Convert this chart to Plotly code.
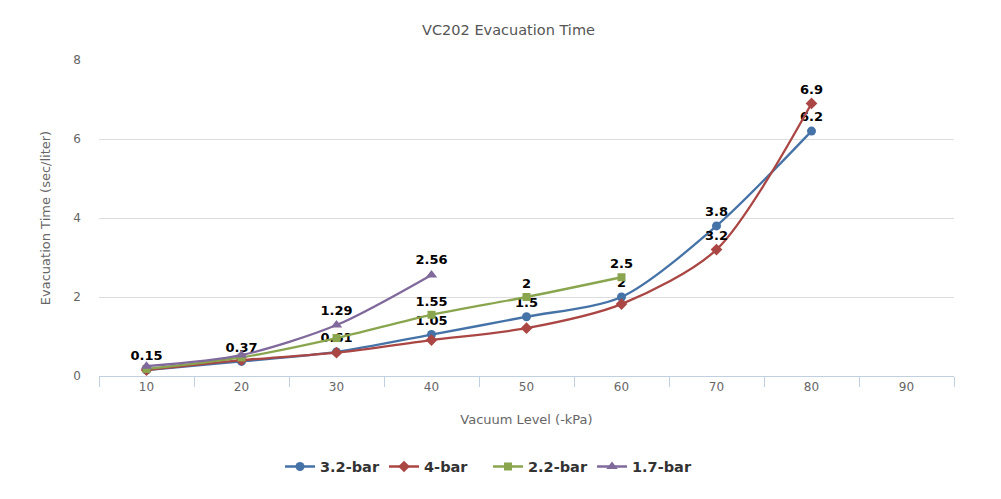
import plotly.graph_objects as go

categories = ["10", "20", "30", "40", "50", "60", "70", "80", "90"]
s32 = [0.15, 0.37, 0.61, 1.05, 1.5, 2.0, 3.8, 6.2]
s4 = [0.15, 0.40, 0.59, 0.91, 1.21, 1.82, 3.2, 6.9]
s22 = [0.18, 0.47, 0.96, 1.55, 2.0, 2.5]
s17 = [0.25, 0.53, 1.29, 2.56]

lab32 = ["0.15", "0.37", "0.61", "1.05", "1.5", "2", "3.8", "6.2"]
lab4 = ["", "", "", "", "", "", "3.2", "6.9"]
lab22 = ["", "", "", "1.55", "2", "2.5"]
lab17 = ["", "", "1.29", "2.56"]

series = [
    ("3.2-bar", s32, lab32, "#4572A7", "circle", 9),
    ("4-bar", s4, lab4, "#AA4643", "diamond", 9),
    ("2.2-bar", s22, lab22, "#89A54E", "square", 8),
    ("1.7-bar", s17, lab17, "#80699B", "triangle-up", 10),
]

fig = go.Figure()
for name, vals, labs, color, sym, sz in series:
    fig.add_trace(go.Scatter(
        x=categories[:len(vals)], y=vals, name=name,
        mode="lines+markers+text",
        text=labs, textposition="top center",
        textfont=dict(family="DejaVu Sans", size=13, color="#000000", weight="bold"),
        line=dict(color=color, width=2.3, shape="spline", smoothing=0.8),
        marker=dict(color=color, symbol=sym, size=sz),
        cliponaxis=False,
    ))

fig.update_layout(
    width=1001, height=499,
    paper_bgcolor="white", plot_bgcolor="white",
    margin=dict(l=91, r=55, t=52, b=131, autoexpand=False),
    font=dict(family="DejaVu Sans", color="#666666", size=12),
    title=dict(text="VC202 Evacuation Time", x=0.5, xanchor="center", y=0.956, yanchor="middle",
               font=dict(size=14.5, color="#555555")),
    showlegend=True,
    legend=dict(orientation="h", x=0.455, xanchor="center", y=-0.236, yanchor="top",
                font=dict(size=14.5, color="#333333", weight="bold"),
                entrywidth=59, entrywidthmode="pixels",
                traceorder="normal"),
)
fig.update_xaxes(
    type="category", categoryorder="array", categoryarray=categories, automargin=False,
    range=[-0.5, 8.5], showgrid=False, showline=True, linecolor="#C0D0E0", linewidth=1,
    ticks="outside", tickson="boundaries", ticklen=10, tickcolor="#C0D0E0",
    tickfont=dict(size=12, color="#666666"),
    title=dict(text="Vacuum Level (-kPa)", font=dict(size=13, color="#666666"), standoff=21),
)
fig.update_yaxes(
    range=[0, 8], dtick=2, showgrid=True, gridcolor="#DDDDDD", zeroline=False, automargin=False,
    showline=False, tickfont=dict(size=12, color="#666666"), ticklabelstandoff=17,
    title=dict(text="Evacuation Time (sec/liter)", font=dict(size=13, color="#666666"), standoff=19),
)

fig.write_html("out.html")
